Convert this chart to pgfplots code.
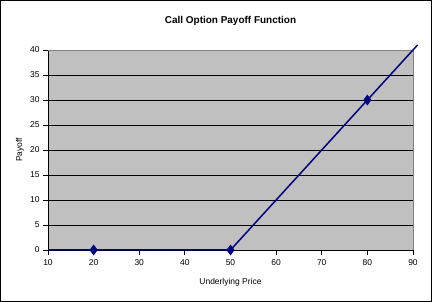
\documentclass[border=0pt]{standalone}
\usepackage{pgfplots}
\pgfplotsset{compat=1.18}
\usepackage{fontspec}
\setmainfont{Liberation Sans}
\definecolor{plotgray}{HTML}{C0C0C0}
\definecolor{bordergray}{HTML}{808080}
\definecolor{navyline}{HTML}{000080}
\begin{document}
\begin{tikzpicture}
\path (0,0) rectangle (432bp,302bp);
\draw[line width=1bp] (0.5bp,0.5bp) rectangle (431.5bp,301.5bp);
\begin{axis}[
  at={(48bp,52bp)}, anchor=south west,
  scale only axis, width=365bp, height=200bp,
  xmin=10, xmax=90, ymin=0, ymax=40,
  xtick={10,20,...,90}, ytick={0,5,...,40},
  axis lines=left, axis line style={-, black, line width=0.8bp},
  axis background/.style={fill=plotgray},
  ymajorgrids, major grid style={black, line width=0.8bp},
  tick align=outside, major tick length=5bp,
  tick style={black, line width=0.8bp},
  /pgf/number format/assume math mode=true,
  ticklabel style={font=\fontsize{8.5}{10}\selectfont},
  xticklabel style={yshift=-1bp},
  xlabel={Underlying Price}, ylabel={Payoff},
  label style={font=\fontsize{8.5}{10}\selectfont},
  xlabel style={at={(axis description cs:0.5,-0.16)}, anchor=center},
  ylabel style={at={(axis description cs:-0.077,0.5)}, anchor=center},
  title={\textbf{Call Option Payoff Function}},
  title style={font=\fontsize{10}{12}\selectfont, at={(axis description cs:0.5,1.115)}, anchor=center},
  clip=false,
]
\draw[bordergray, line width=0.8bp] (rel axis cs:0,1) -- (rel axis cs:1,1) -- (rel axis cs:1,0);
\addplot[navyline, line width=1.5bp, mark=diamond*, mark size=4.2bp, mark indices={2,3,4}, mark options={solid, fill=navyline}]
coordinates {(10,0) (20,0) (50,0) (80,30) (91,41)};
\end{axis}
\end{tikzpicture}
\end{document}
